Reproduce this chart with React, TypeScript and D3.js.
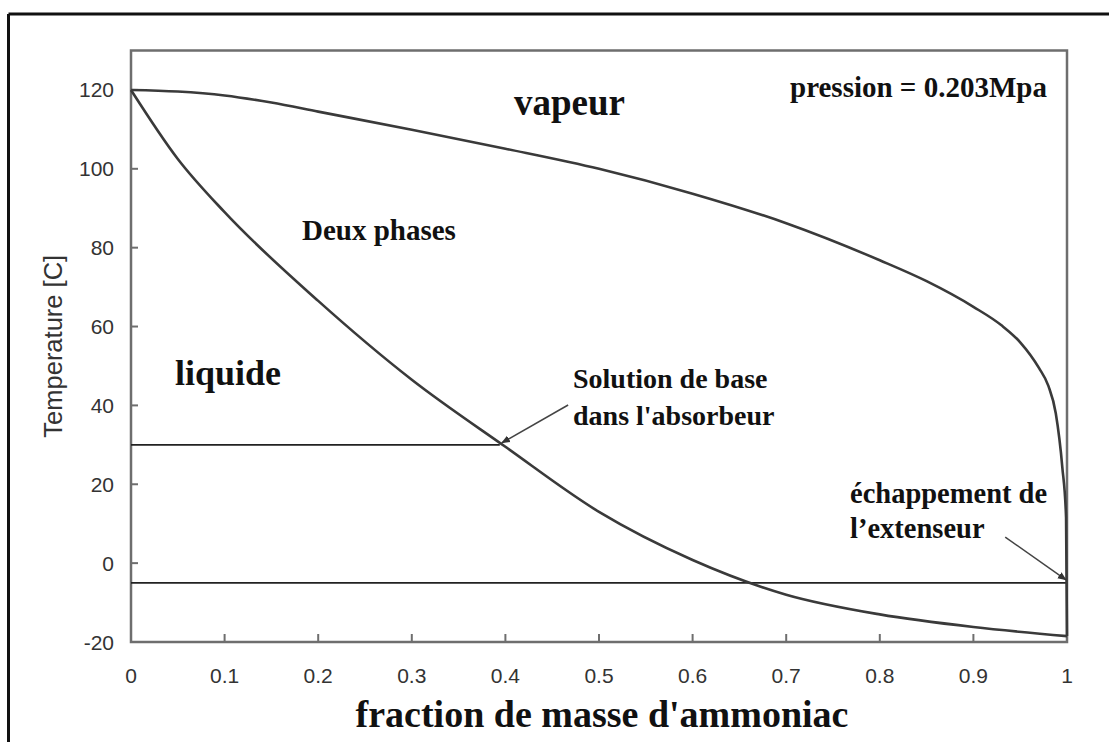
import React from 'react';
import * as d3 from 'd3';

// bubble (liquid) line, mass fraction vs temperature [C]
const bubbleX = [0, 0.05, 0.1, 0.2, 0.3, 0.4, 0.5, 0.6, 0.7, 0.8, 0.9, 1.0];
const bubbleT = [120, 102.5, 89, 66.5, 46.5, 29.5, 13.0, 0.8, -8.0, -13.0, -16.2, -18.5];

// dew (vapour) line
const dewX = [0, 0.05, 0.1, 0.15, 0.2, 0.3, 0.4, 0.5, 0.6, 0.7, 0.8, 0.85, 0.9, 0.93, 0.95, 0.97, 0.98, 0.988, 0.995, 0.999, 1.0];
const dewT = [120, 119.6, 118.6, 116.8, 114.5, 109.9, 105.1, 100.0, 93.7, 86.2, 76.8, 71.5, 65.0, 60.3, 56.0, 49.5, 45.0, 38.0, 24.3, 11.6, -18.5];

const xTicks = [0, 0.1, 0.2, 0.3, 0.4, 0.5, 0.6, 0.7, 0.8, 0.9, 1];
const xTickLabels = ['0', '0.1', '0.2', '0.3', '0.4', '0.5', '0.6', '0.7', '0.8', '0.9', '1'];
const yTicks = [-20, 0, 20, 40, 60, 80, 100, 120];

// horizontal state lines
const absorberT = 30;
const absorberX = 0.394;
const expanderT = -5;

const W = 1109;
const H = 742;
const serif = '"Liberation Serif", "Times New Roman", serif';
const sans = '"Liberation Sans", Arial, sans-serif';

const App = () => {
  const x = d3.scaleLinear().domain([0, 1]).range([131, 1067]);
  const y = d3.scaleLinear().domain([-20, 130]).range([642, 50.5]);

  const line = d3.line<[number, number]>()
    .x(d => x(d[0]))
    .y(d => y(d[1]))
    .curve(d3.curveMonotoneX);

  const bubble = line(bubbleX.map((v, i) => [v, bubbleT[i]]));
  const dew = line(dewX.map((v, i) => [v, dewT[i]]));

  const curveColor = '#3a3a3a';
  const frameColor = '#6e6e6e';

  return (
    <svg width={W} height={H} viewBox={`0 0 ${W} ${H}`}
      style={{ position: 'absolute', left: 0, top: 0, background: '#fff' }}>
      <defs>
        <marker id="arr" viewBox="0 0 10 10" refX="9" refY="5"
          markerWidth="9" markerHeight="9" orient="auto" markerUnits="userSpaceOnUse">
          <path d="M0,1 L10,5 L0,9 z" fill="#333" />
        </marker>
      </defs>

      {/* outer page border */}
      <line x1={8.5} y1={14} x2={W} y2={14} stroke="#111" strokeWidth={3} />
      <line x1={8.5} y1={14} x2={8.5} y2={H} stroke="#111" strokeWidth={3} />

      {/* plot frame */}
      <rect x={x(0)} y={y(130)} width={x(1) - x(0)} height={y(-20) - y(130)}
        fill="none" stroke={frameColor} strokeWidth={2.5} />

      {/* ticks (inside) */}
      {yTicks.map(t => (
        <g key={'y' + t}>
          <line x1={x(0)} x2={x(0) + 7} y1={y(t)} y2={y(t)} stroke={frameColor} strokeWidth={2} />
          <text x={114} y={y(t)} dy="0.36em" textAnchor="end" fontFamily={sans}
            fontSize={21} fill="#333">{t}</text>
        </g>
      ))}
      {xTicks.map((t, i) => (
        <g key={'x' + t}>
          <line x1={x(t)} x2={x(t)} y1={y(-20)} y2={y(-20) - 8} stroke={frameColor} strokeWidth={2} />
          <text x={x(t)} y={683} textAnchor="middle" fontFamily={sans}
            fontSize={21} fill="#333">{xTickLabels[i]}</text>
        </g>
      ))}

      {/* state lines */}
      <line x1={x(0)} x2={x(absorberX)} y1={y(absorberT)} y2={y(absorberT)} stroke="#222" strokeWidth={1.6} />
      <line x1={x(0)} x2={x(1)} y1={y(expanderT)} y2={y(expanderT)} stroke="#222" strokeWidth={1.6} />

      {/* saturation curves */}
      <path d={bubble || ''} fill="none" stroke={curveColor} strokeWidth={2.6} />
      <path d={dew || ''} fill="none" stroke={curveColor} strokeWidth={2.6} />

      {/* arrows */}
      <line x1={x(0.467)} y1={y(40.1)} x2={x(absorberX) + 2} y2={y(absorberT) - 2}
        stroke="#444" strokeWidth={1.5} markerEnd="url(#arr)" />
      <line x1={x(0.934)} y1={y(6.6)} x2={x(1) - 1} y2={y(expanderT) - 3}
        stroke="#444" strokeWidth={1.5} markerEnd="url(#arr)" />

      {/* region labels */}
      <g fontFamily={serif} fontWeight="bold" fill="#111">
        <text x={514} y={115} fontSize={37}>vapeur</text>
        <text x={790} y={97} fontSize={29}>pression = 0.203Mpa</text>
        <text x={302} y={240} fontSize={29}>Deux phases</text>
        <text x={175} y={385} fontSize={36}>liquide</text>
        <text x={573} y={388} fontSize={28}>Solution de base</text>
        <text x={573} y={425} fontSize={28}>dans l'absorbeur</text>
        <text x={850} y={503} fontSize={28.5}>échappement de</text>
        <text x={850} y={538} fontSize={28.5}>l’extenseur</text>
      </g>

      {/* axis titles */}
      <text x={602} y={727} textAnchor="middle" fontFamily={serif} fontWeight="bold"
        fontSize={38} fill="#111">fraction de masse d'ammoniac</text>
      <text transform={`translate(53,${y(55)}) rotate(-90)`} textAnchor="middle"
        dy="0.35em" fontFamily={sans} fontSize={25.5} fill="#333">Temperature [C]</text>
    </svg>
  );
};

export default App;
